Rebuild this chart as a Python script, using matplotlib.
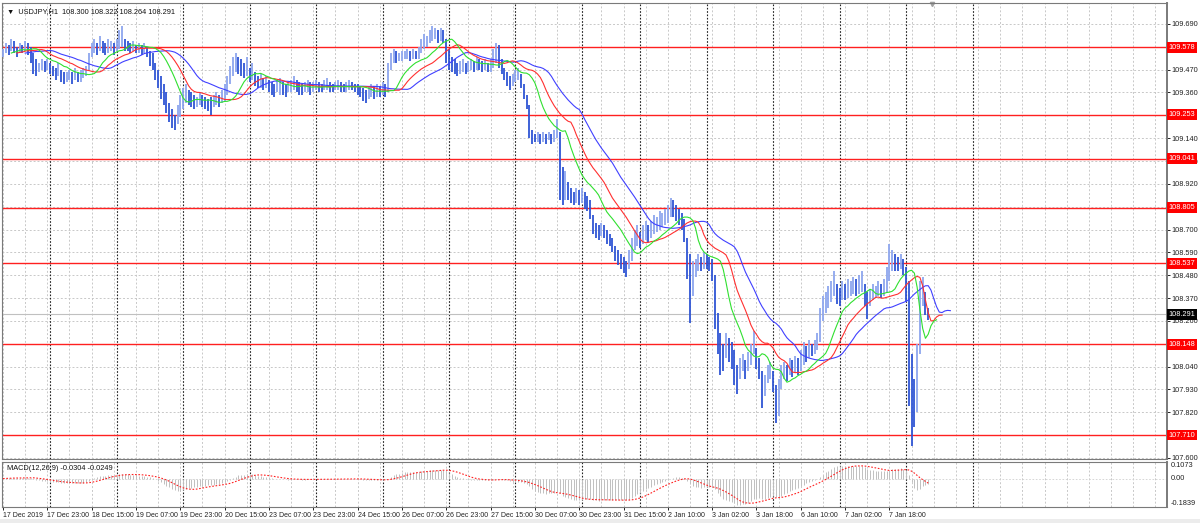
import numpy as np
import pandas as pd
import matplotlib
matplotlib.use("Agg")
import matplotlib.pyplot as plt

plt.rcParams["font.family"] = ["Liberation Sans", "DejaVu Sans"]

# USDJPY H1 bars, 17 Dec 2019 07:00 .. 8 Jan 2020 08:00
highs = [
    109.57, 109.60, 109.59, 109.62, 109.61, 109.58, 109.60, 109.59, 109.61, 109.60, 109.58, 109.55, 109.52, 109.50, 109.52, 109.51,
    109.52, 109.50, 109.49, 109.48, 109.50, 109.47, 109.46, 109.46, 109.47, 109.46, 109.48, 109.46, 109.47, 109.48, 109.49, 109.55,
    109.60, 109.62, 109.60, 109.63, 109.61, 109.60, 109.62, 109.61, 109.60, 109.62, 109.66, 109.68, 109.62, 109.61, 109.60, 109.61,
    109.59, 109.60, 109.59, 109.60, 109.58, 109.56, 109.55, 109.50, 109.47, 109.44, 109.40, 109.36, 109.31, 109.28, 109.25, 109.30,
    109.35, 109.38, 109.40, 109.37, 109.36, 109.35, 109.34, 109.36, 109.35, 109.34, 109.33, 109.34, 109.35, 109.36, 109.35, 109.37,
    109.40, 109.44, 109.49, 109.53, 109.55, 109.53, 109.52, 109.50, 109.53, 109.48, 109.50, 109.46, 109.44, 109.45, 109.43, 109.44,
    109.42, 109.41, 109.40, 109.42, 109.43, 109.41, 109.40, 109.41, 109.42, 109.44, 109.42, 109.41, 109.40, 109.41, 109.42, 109.41,
    109.41, 109.42, 109.41, 109.40, 109.42, 109.43, 109.41, 109.40, 109.41, 109.42, 109.41, 109.40, 109.41, 109.42, 109.41, 109.40,
    109.40, 109.39, 109.38, 109.37, 109.39, 109.40, 109.39, 109.40, 109.39, 109.41, 109.40, 109.50, 109.55, 109.57, 109.56, 109.55,
    109.56, 109.56, 109.57, 109.56, 109.57, 109.56, 109.58, 109.62, 109.64, 109.63, 109.66, 109.68, 109.67, 109.66, 109.67, 109.66,
    109.62, 109.57, 109.53, 109.52, 109.50, 109.51, 109.52, 109.50, 109.51, 109.52, 109.51, 109.53, 109.52, 109.51, 109.52, 109.50,
    109.52, 109.57, 109.60, 109.59, 109.52, 109.48, 109.46, 109.44, 109.45, 109.47, 109.48, 109.45, 109.40, 109.35, 109.30, 109.18,
    109.16, 109.17, 109.16, 109.17, 109.16, 109.17, 109.16, 109.18, 109.23, 109.17, 109.00, 108.98, 108.93, 108.90, 108.88, 108.90,
    108.89, 108.90, 108.88, 108.86, 108.84, 108.77, 108.73, 108.72, 108.73, 108.72, 108.70, 108.68, 108.66, 108.62, 108.60, 108.58,
    108.57, 108.55, 108.60, 108.66, 108.70, 108.72, 108.69, 108.72, 108.74, 108.72, 108.74, 108.77, 108.76, 108.79, 108.78, 108.80,
    108.82, 108.85, 108.84, 108.82, 108.80, 108.78, 108.75, 108.66, 108.58, 108.55, 108.56, 108.58, 108.57, 108.59, 108.58, 108.57,
    108.56, 108.48, 108.30, 108.20, 108.15, 108.20, 108.18, 108.16, 108.12, 108.05, 108.08, 108.10, 108.07, 108.11, 108.15, 108.21,
    108.13, 108.08, 108.02, 108.00, 108.05, 108.06, 108.02, 107.95, 107.98, 108.05, 108.06, 108.05, 108.08, 108.07, 108.09, 108.08,
    108.12, 108.16, 108.14, 108.17, 108.15, 108.17, 108.20, 108.32, 108.38, 108.40, 108.43, 108.45, 108.50, 108.44, 108.42, 108.45,
    108.44, 108.46, 108.45, 108.47, 108.46, 108.48, 108.50, 108.44, 108.40, 108.41, 108.44, 108.43, 108.45, 108.44, 108.46, 108.52,
    108.63, 108.60, 108.58, 108.57, 108.58, 108.56, 108.52, 108.45, 108.10, 107.98, 108.15, 108.45, 108.47, 108.40, 108.322,
]
lows = [
    109.53, 109.55, 109.54, 109.56, 109.55, 109.53, 109.55, 109.55, 109.56, 109.54, 109.50, 109.45, 109.44, 109.46, 109.47, 109.46,
    109.47, 109.45, 109.44, 109.42, 109.44, 109.41, 109.40, 109.41, 109.42, 109.40, 109.42, 109.41, 109.41, 109.43, 109.44, 109.47,
    109.53, 109.55, 109.54, 109.56, 109.55, 109.54, 109.55, 109.56, 109.54, 109.56, 109.57, 109.58, 109.56, 109.56, 109.55, 109.56,
    109.55, 109.55, 109.54, 109.55, 109.53, 109.49, 109.47, 109.42, 109.38, 109.33, 109.30, 109.26, 109.22, 109.19, 109.18, 109.21,
    109.24, 109.28, 109.31, 109.30, 109.29, 109.28, 109.29, 109.30, 109.29, 109.28, 109.27, 109.25, 109.29, 109.30, 109.29, 109.31,
    109.32, 109.35, 109.40, 109.44, 109.46, 109.45, 109.44, 109.43, 109.44, 109.41, 109.42, 109.39, 109.38, 109.38, 109.37, 109.38,
    109.36, 109.35, 109.34, 109.36, 109.35, 109.35, 109.34, 109.36, 109.36, 109.37, 109.36, 109.35, 109.35, 109.36, 109.36, 109.35,
    109.36, 109.37, 109.36, 109.36, 109.37, 109.37, 109.36, 109.36, 109.37, 109.37, 109.36, 109.36, 109.36, 109.37, 109.37, 109.36,
    109.35, 109.34, 109.32, 109.31, 109.33, 109.34, 109.33, 109.34, 109.34, 109.35, 109.34, 109.36, 109.47, 109.50, 109.50, 109.51,
    109.51, 109.52, 109.52, 109.51, 109.52, 109.52, 109.52, 109.55, 109.57, 109.58, 109.60, 109.61, 109.62, 109.60, 109.61, 109.60,
    109.50, 109.47, 109.46, 109.45, 109.44, 109.45, 109.46, 109.45, 109.46, 109.47, 109.46, 109.47, 109.47, 109.46, 109.47, 109.46,
    109.46, 109.48, 109.50, 109.48, 109.45, 109.42, 109.39, 109.37, 109.39, 109.41, 109.42, 109.38, 109.33, 109.28, 109.14, 109.11,
    109.12, 109.12, 109.11, 109.12, 109.11, 109.13, 109.11, 109.12, 109.14, 108.84, 108.82, 108.84, 108.84, 108.83, 108.82, 108.83,
    108.82, 108.83, 108.80, 108.79, 108.75, 108.68, 108.66, 108.65, 108.67, 108.66, 108.63, 108.62, 108.59, 108.55, 108.53, 108.51,
    108.49, 108.47, 108.51, 108.55, 108.60, 108.62, 108.61, 108.63, 108.65, 108.64, 108.66, 108.68, 108.69, 108.70, 108.71, 108.72,
    108.73, 108.76, 108.76, 108.74, 108.72, 108.70, 108.64, 108.46, 108.25, 108.38, 108.47, 108.50, 108.50, 108.51, 108.51, 108.50,
    108.45, 108.22, 108.10, 108.00, 108.02, 108.08, 108.06, 108.03, 107.95, 107.91, 107.98, 108.02, 107.98, 108.02, 108.05, 108.10,
    108.03, 107.98, 107.84, 107.90, 107.96, 107.98, 107.92, 107.77, 107.80, 107.93, 107.98, 107.97, 108.00, 107.99, 108.01, 108.00,
    108.02, 108.05, 108.06, 108.08, 108.09, 108.10, 108.12, 108.16, 108.26, 108.30, 108.32, 108.35, 108.38, 108.34, 108.33, 108.36,
    108.36, 108.37, 108.38, 108.39, 108.38, 108.39, 108.40, 108.33, 108.27, 108.33, 108.36, 108.37, 108.38, 108.37, 108.38, 108.40,
    108.45, 108.50, 108.50, 108.50, 108.51, 108.48, 108.35, 107.85, 107.66, 107.75, 107.82, 108.10, 108.33, 108.29, 108.264,
]

time_labels = ["17 Dec 2019", "17 Dec 23:00", "18 Dec 15:00", "19 Dec 07:00", "19 Dec 23:00",
               "20 Dec 15:00", "23 Dec 07:00", "23 Dec 23:00", "24 Dec 15:00", "26 Dec 07:00",
               "26 Dec 23:00", "27 Dec 15:00", "30 Dec 07:00", "30 Dec 23:00", "31 Dec 15:00",
               "2 Jan 10:00", "3 Jan 02:00", "3 Jan 18:00", "6 Jan 10:00", "7 Jan 02:00", "7 Jan 18:00"]
day_starts = [17, 41, 65, 89, 113, 137, 161, 185, 209, 230, 254, 278, 302, 326, 350]
grid_prices = [109.690, 109.580, 109.470, 109.360, 109.250, 109.140, 109.030, 108.920, 108.810, 108.700,
               108.590, 108.480, 108.370, 108.260, 108.150, 108.040, 107.930, 107.820, 107.710, 107.600]
# tick labels that are not covered by a level label
price_ticks = [109.690, 109.470, 109.360, 109.140, 109.030, 108.920, 108.700,
               108.590, 108.480, 108.370, 108.260, 108.040, 107.930, 107.820, 107.600]
levels = [109.578, 109.253, 109.041, 108.805, 108.537, 108.148, 107.710]
bid = 108.291
macd_top, macd_bottom = 0.1073, -0.1839

W, H = 1200, 523
FS = 5.3
FS_X = 5.0
fig = plt.figure(figsize=(12, 5.23), dpi=100)
fig.patch.set_facecolor("white")
fig.patches.append(plt.Rectangle((0, 0), 1, 4 / H, transform=fig.transFigure,
                                 fc="#ececec", ec="none", zorder=-5))


def px_axes(x0, y0, x1, y1):
    return fig.add_axes([x0 / W, 1 - y1 / H, (x1 - x0) / W, (y1 - y0) / H])


ax = px_axes(2, 3, 1167, 459)
mx = px_axes(2, 462, 1167, 507)

hi = np.array(highs)
lo = np.array(lows)
med = (hi + lo) / 2
idx = np.arange(len(hi))
xmax = 420.2

# grid and day separators
for a in (ax, mx):
    for gx in range(0, 424, 8):
        a.axvline(gx, color="#c8c8c8", ls=(0, (2, 2)), lw=0.7, zorder=0)
    for d in day_starts:
        a.axvline(d, color="#202020", ls=(0, (1.5, 1.5)), lw=0.8, zorder=1)
for t in grid_prices:
    ax.axhline(t, color="#c8c8c8", ls=(0, (2, 2)), lw=0.7, zorder=0)
mx.axhline(0, color="#d0d0d0", ls=(0, (2, 2)), lw=0.6, zorder=0)

# price bars
up = np.r_[True, med[1:] >= med[:-1]]
ax.vlines(idx[up], lo[up], hi[up], color="#8ea6ee", lw=1.3, zorder=3)
ax.vlines(idx[~up], lo[~up], hi[~up], color="#2f55d4", lw=1.3, zorder=3)

# alligator: smoothed MAs of the median price, shifted forward
s = pd.Series(med)
jaw = s.ewm(alpha=1 / 13, adjust=False).mean()
teeth = s.ewm(alpha=1 / 8, adjust=False).mean()
lips = s.ewm(alpha=1 / 5, adjust=False).mean()
ax.plot(idx + 8, jaw, color="#4040ff", lw=0.8, zorder=4)
ax.plot(idx + 5, teeth, color="#ff3030", lw=0.8, zorder=4)
ax.plot(idx + 3, lips, color="#30e030", lw=0.8, zorder=4)


def right_label(a, y, text, fc):
    a.annotate(text, xy=(1.0, y), xycoords=("axes fraction", "data"),
               xytext=(1.0, 0), textcoords="offset points", ha="left", va="center",
               fontsize=FS, color="white",
               bbox=dict(boxstyle="square,pad=0.25", fc=fc, ec="none"),
               annotation_clip=False, zorder=10)


for lv in levels:
    ax.axhline(lv, color="#ff2020", lw=1.0, zorder=2)
    right_label(ax, lv, f"{lv:.3f}", "#ff0000")
ax.axhline(bid, color="#c0c0c0", lw=0.8, zorder=2)
right_label(ax, bid, f"{bid:.3f}", "#000000")

ax.set_xlim(-0.36, xmax)
ax.set_ylim(107.595, 109.791)
ax.set_xticks([])
ax.yaxis.tick_right()
ax.set_yticks(price_ticks)
ax.set_yticklabels([f"{t:.3f}" for t in price_ticks])
ax.tick_params(axis="y", length=2, width=0.7, colors="#222222", labelsize=FS, pad=1.2)
ax.text(0.004, 0.988, "\u25bc  USDJPY,H1  108.300 108.322 108.264 108.291",
        transform=ax.transAxes, fontsize=FS, va="top", ha="left", color="#111111")
ax.plot([0.798], [0.997], marker="v", ms=3, color="#a0a0a0", transform=ax.transAxes, clip_on=False)

# MACD(12,26,9)
ema12 = s.ewm(span=12, adjust=False).mean()
ema26 = s.ewm(span=26, adjust=False).mean()
macd = ema12 - ema26
signal = macd.rolling(9, min_periods=1).mean()
mx.vlines(idx, 0, macd, color="#c0c0c0", lw=0.7, zorder=3)
mx.plot(idx, signal, color="#ff2020", ls=(0, (1.5, 1.5)), lw=0.8, zorder=4)
mx.set_xlim(-0.36, xmax)
mx.set_ylim(macd_bottom, macd_top)
mx.set_yticks([])
for val, txt, va in [(macd_top, "0.1073", "top"), (0.0, "0.00", "center"), (macd_bottom, "-0.1839", "bottom")]:
    mx.annotate(txt, xy=(1.0, val), xycoords=("axes fraction", "data"), xytext=(2.5, 0),
                textcoords="offset points", ha="left", va=va, fontsize=FS, color="#222222",
                annotation_clip=False)
mx.set_xticks(list(range(0, 321, 16)))
mx.set_xticklabels(time_labels, ha="left")
mx.tick_params(axis="x", length=2.5, width=0.7, colors="#222222", labelsize=FS_X, pad=1.0)
mx.text(0.004, 0.94, "MACD(12,26,9) -0.0304 -0.0249", transform=mx.transAxes,
        fontsize=FS, va="top", ha="left", color="#111111")

for a in (ax, mx):
    for sp in a.spines.values():
        sp.set_color("#7a7a7a")
        sp.set_linewidth(0.8)
    a.spines["right"].set_linewidth(1.4)

fig.savefig("out.png", dpi=100)
